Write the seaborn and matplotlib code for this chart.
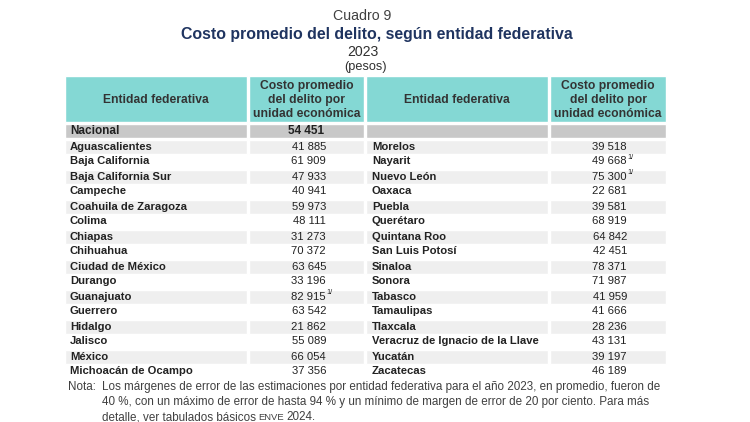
import numpy as np
import matplotlib
matplotlib.use("Agg")
import matplotlib.pyplot as plt
import seaborn as sns

# Table data
left_states = ["Aguascalientes", "Baja California", "Baja California Sur", "Campeche",
               "Coahuila de Zaragoza", "Colima", "Chiapas", "Chihuahua",
               "Ciudad de México", "Durango", "Guanajuato", "Guerrero",
               "Hidalgo", "Jalisco", "México", "Michoacán de Ocampo"]
left_values = [41885, 61909, 47933, 40941, 59973, 48111, 31273, 70372,
               63645, 33196, 82915, 63542, 21862, 55089, 66054, 37356]
left_notes = ["", "", "", "", "", "", "", "", "", "", "1/", "", "", "", "", ""]

right_states = ["Morelos", "Nayarit", "Nuevo León", "Oaxaca", "Puebla", "Querétaro",
                "Quintana Roo", "San Luis Potosí", "Sinaloa", "Sonora", "Tabasco",
                "Tamaulipas", "Tlaxcala", "Veracruz de Ignacio de la Llave",
                "Yucatán", "Zacatecas"]
right_values = [39518, 49668, 75300, 22681, 39581, 68919, 64842, 42451,
                78371, 71987, 41959, 41666, 28236, 43131, 39197, 46189]
right_notes = ["", "1/", "1/", "", "", "", "", "", "", "", "", "", "", "", "", ""]

national_label = "Nacional"
national_value = 54451

header_entity = "Entidad federativa"
header_cost = "Costo promedio\ndel delito por\nunidad económica"

nota_lines = [
    "Los márgenes de error de las estimaciones por entidad federativa para el año 2023, en promedio, fueron de",
    "40 %, con un máximo de error de hasta 94 % y un mínimo de margen de error de 20 por ciento. Para más",
]
nota_last = ["detalle, ver tabulados básicos", "ENVE", "2024."]

sns.set_theme(style="white")
plt.rcParams['font.family'] = ['Liberation Sans', 'DejaVu Sans']

TEAL = "#84d8d4"
GREY = "#c8c8c8"
STRIPE = "#efefef"
TXT = "#222222"
NAVY = "#1f3460"
NOTE = "#404040"


def fmt(v):
    return f"{v:,}".replace(",", " ")


fig = plt.figure(figsize=(7.5, 4.22), dpi=100)
ax = fig.add_axes([0, 0, 1, 1])
ax.set_xlim(0, 750)
ax.set_ylim(422, 0)
ax.axis("off")

# column edges (left, right)
cols = [(65, 247), (249, 364), (366, 548), (550, 666)]

# titles
ax.text(362, 16, "Cuadro 9", ha="center", va="center", fontsize=10.2, color="#404040")
ax.text(377, 34, "Costo promedio del delito, según entidad federativa", ha="center",
        va="center", fontsize=11.4, fontweight="bold", color=NAVY)
ax.text(363, 52, "2023", ha="center", va="center", fontsize=10.2, color="#303030")
ax.text(366, 67, "(pesos)", ha="center", va="center", fontsize=9.2, color="#303030")

# header band
head_top, head_bot = 76, 122
for l, r in cols:
    ax.barh((head_top + head_bot) / 2, r - l, left=l, height=head_bot - head_top, color=TEAL)
for i, (l, r) in enumerate(cols):
    label = header_entity if i % 2 == 0 else header_cost
    ax.text((l + r) / 2, 100, label, ha="center", va="center", fontsize=8.7,
            fontweight="bold", color="#333333", linespacing=1.17)

# national row
nat_top, nat_bot = 124, 138
for l, r in cols:
    ax.barh((nat_top + nat_bot) / 2, r - l, left=l, height=nat_bot - nat_top, color=GREY)
ax.text(70, 131, national_label, ha="left", va="center", fontsize=8.5, fontweight="bold", color=TXT)
ax.text(306, 131, fmt(national_value), ha="center", va="center", fontsize=8.5,
        fontweight="bold", color=TXT)

# body rows
row_top = 139
row_h = 15
n = len(left_states)
centers = row_top + row_h * (np.arange(n) + 0.5)
stripe_idx = np.arange(0, n, 2)
for l, r in cols:
    ax.barh(centers[stripe_idx], r - l, left=l, height=row_h - 1, color=STRIPE)


def draw_side(states, values, notes, name_x, num_right):
    for y, s, v, nt in zip(centers, states, values, notes):
        ax.text(name_x, y, s, ha="left", va="center", fontsize=8.1, fontweight="bold", color=TXT)
        ax.text(num_right, y, fmt(v), ha="right", va="center", fontsize=8.1, color=TXT)
        if nt:
            ax.text(num_right + 0.5, y - 4, nt, ha="left", va="center", fontsize=5.2, color=TXT)


draw_side(left_states, left_values, left_notes, 70, 326)
draw_side(right_states, right_values, right_notes, 372, 627)

# note
note_y = 390
note_dy = 15
ax.text(68, note_y, "Nota:", ha="left", va="baseline", fontsize=8.4, color=NOTE)
for k, line in enumerate(nota_lines):
    ax.text(102, note_y + note_dy * k, line, ha="left", va="baseline", fontsize=8.4, color=NOTE)

# last line, "ENVE" set smaller like small caps
y3 = note_y + note_dy * 2
fig.canvas.draw()
renderer = fig.canvas.get_renderer()
inv = ax.transData.inverted()
x = 102
for part, size in zip(nota_last, [8.4, 6.8, 8.4]):
    t = ax.text(x, y3, part, ha="left", va="baseline", fontsize=size, color=NOTE)
    bb = t.get_window_extent(renderer)
    x = inv.transform((bb.x1, bb.y0))[0] + 2.5

fig.savefig("out.png", dpi=100, facecolor="white")
